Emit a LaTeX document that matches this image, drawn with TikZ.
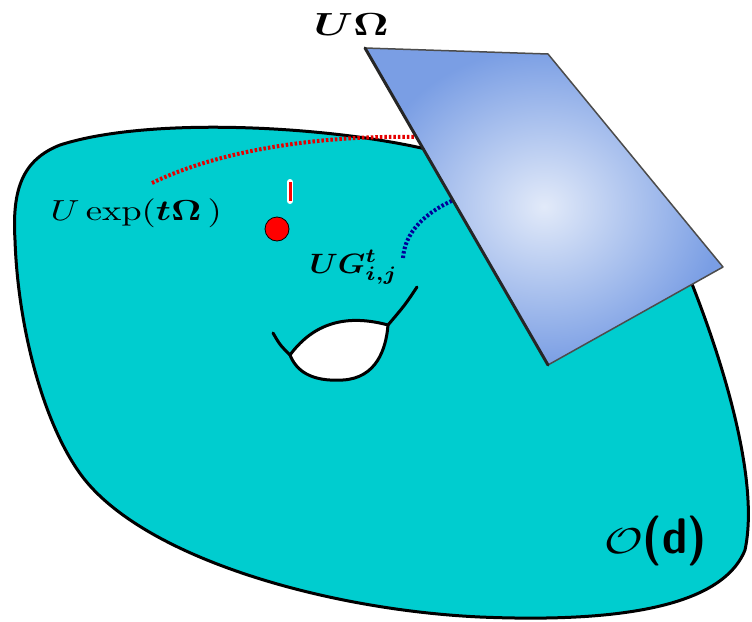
\documentclass[tikz,border=0pt]{standalone}
\usepackage{amsmath,amssymb,bm}
\begin{document}
\begin{tikzpicture}[x=1pt,y=-1pt,
  lbl/.style={inner sep=0pt,anchor=base west},
  dotline/.style={line width=4pt,dash pattern=on 2.5pt off 2pt}]
\useasboundingbox (0,0) rectangle (752,621);
\definecolor{blob}{RGB}{0,205,207}
\definecolor{planeout}{RGB}{122,158,228}
\definecolor{planein}{RGB}{226,234,249}
% manifold
\fill[blob,draw=black,line width=3pt,line join=round]
  (430,150) .. controls (330,126) and (150,116) .. (60,145)
  .. controls (22,160) and (12,190) .. (15,240)
  .. controls (18,330) and (45,430) .. (85,480)
  .. controls (150,560) and (330,610) .. (480,617)
  .. controls (600,622) and (720,612) .. (745,550)
  .. controls (760,480) and (722,360) .. (692,284) -- cycle;
% hole
\draw[line width=3pt,fill=white,line join=round]
  (290,355) .. controls (310,328) and (340,312) .. (388,325)
  .. controls (386,350) and (376,378) .. (343,380)
  .. controls (310,382) and (296,370) .. (290,355) -- cycle;
\draw[line width=3pt,line cap=round] (273,333) .. controls (280,345) .. (290,355);
\draw[line width=3pt,line cap=round] (388,325) .. controls (405,305) .. (417,287);
% curves
\draw[red!90!black,dotline] (152,183) .. controls (220,150) and (320,135) .. (418,137);
\draw[blue!60!black,dotline] (403,258) .. controls (405,232) and (425,212) .. (458,198);
% point
\fill[red,draw=black,line width=0.8pt] (277,229) circle (12);
\draw[white,line width=6pt,line cap=round] (290,182) -- (290,201);
\draw[red,line width=3pt] (290,182) -- (290,201);
% tangent plane
\shade[inner color=planein,outer color=planeout] (365,48) -- (548,54) -- (723,267) -- (548,365) -- cycle;
\draw[gray!60!black,line width=1.5pt,line join=round] (365,48) -- (548,54) -- (723,267) -- (548,365);
\draw[black!85,line width=3pt,line cap=round] (365,48) -- (548,365);
% labels
\node[lbl,xscale=4.3,yscale=3.2] (uo) at (313,35) {$\boldsymbol{U\Omega}$};
\node[lbl,xscale=3.66,yscale=2.9] (ue) at (50,220) {$U\exp(\boldsymbol{t\Omega}\,)$};
\node[lbl,xscale=3.1,yscale=2.8] (ug) at (309,273) {$\boldsymbol{U G^{t}_{i,j}}$};
\node[lbl,xscale=4.7,yscale=3.6] (o) at (604,553) {$\mathcal{O}$};
\node[lbl,xscale=4.5,yscale=5] (d) at (642,553) {\textsf{\textbf{(d)}}};
\end{tikzpicture}
\end{document}
